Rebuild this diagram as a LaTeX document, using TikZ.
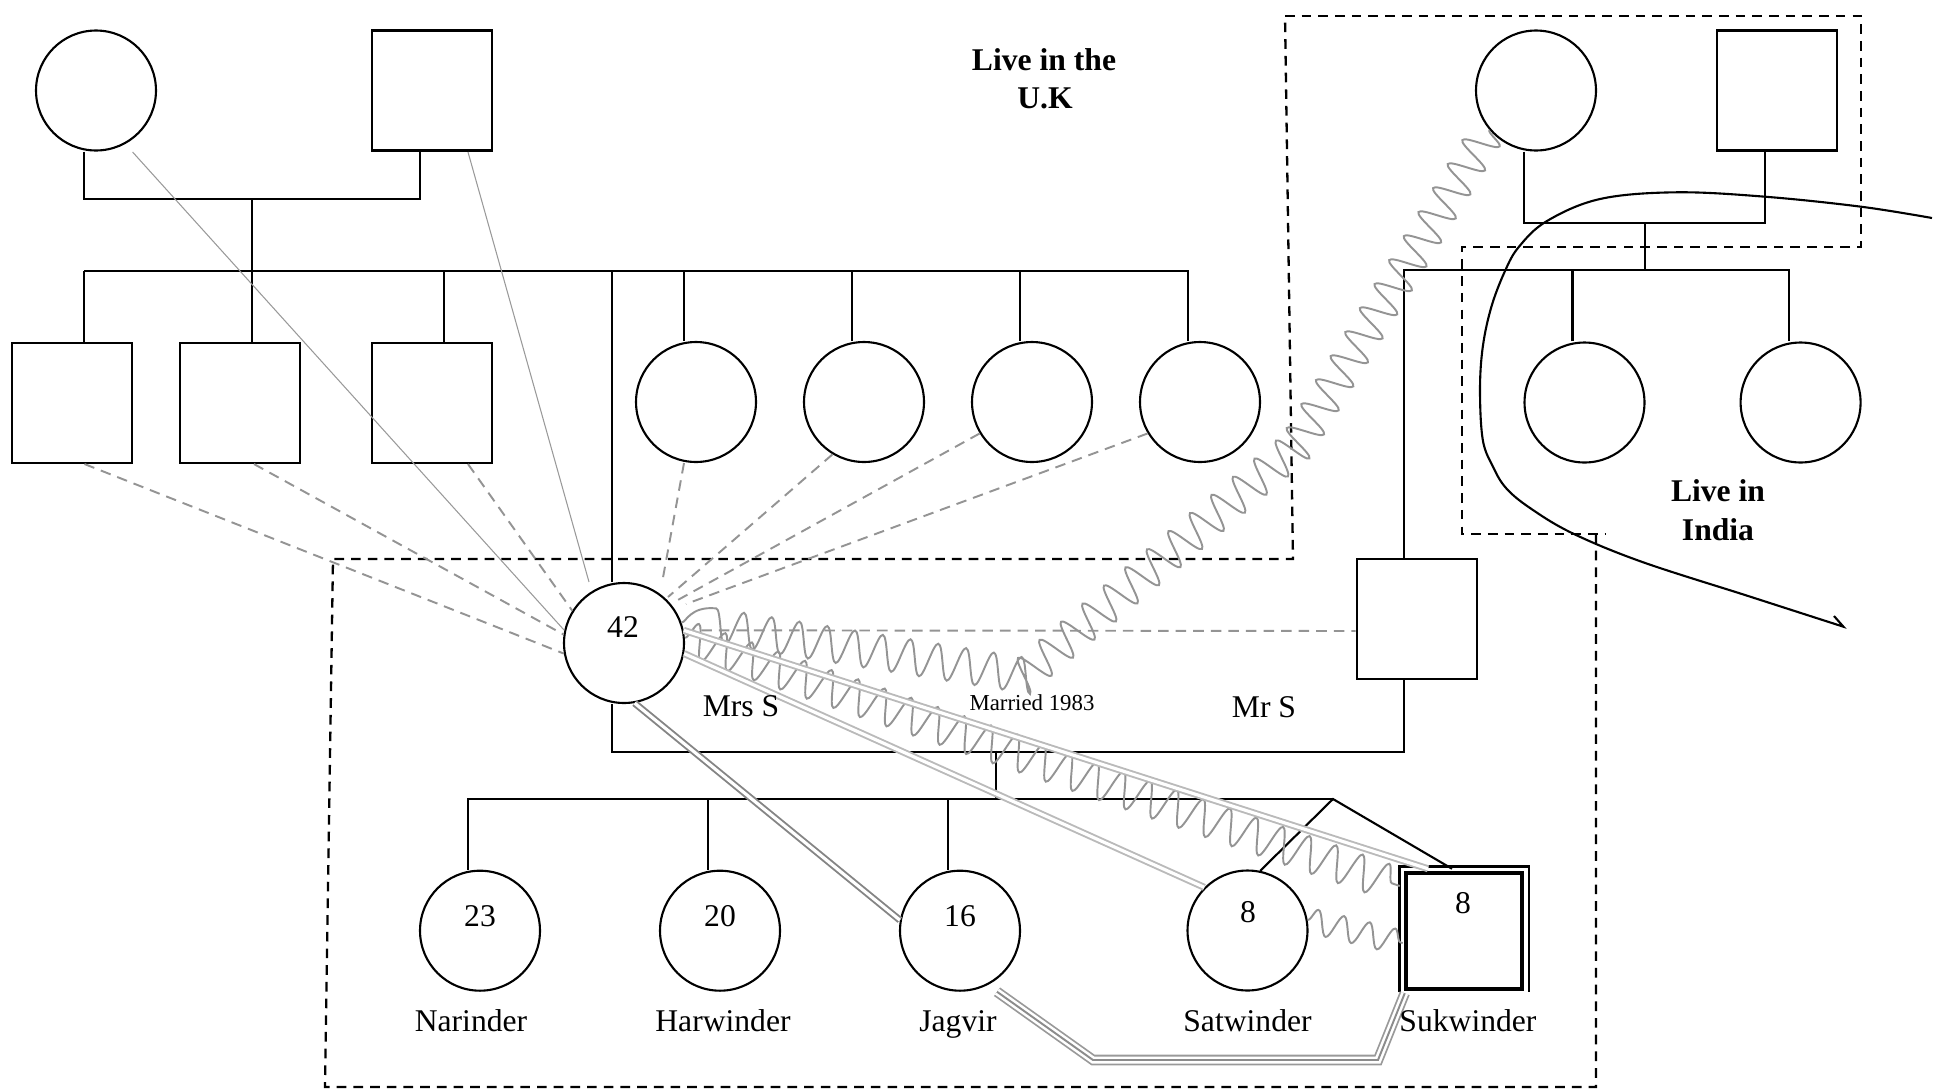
\documentclass[tikz,border=0pt]{standalone}
\usepackage{fontspec}
\setmainfont{Liberation Serif}
\usetikzlibrary{calc,decorations.pathmorphing}
\begin{document}
\begin{tikzpicture}[x=0.02cm,y=-0.02cm,
  fem/.style={circle,draw,line width=1.2pt,minimum size=2.4cm,inner sep=0pt},
  mal/.style={rectangle,draw,line width=1.2pt,minimum width=2.4cm,minimum height=2.4cm,inner sep=0pt},
  kin/.style={line width=1.2pt},
  zone/.style={line width=1.3pt,dash pattern=on 5.5pt off 4pt},
  gdash/.style={draw=black!42,line width=1.1pt,dash pattern=on 6pt off 4pt},
  gthin/.style={draw=black!40,line width=0.6pt},
  coil/.style={draw=black!42,line width=1.1pt,decorate,decoration={snake,segment length=16pt,amplitude=10pt}},
  dbl/.style={draw=black!27,line width=1.1pt,double=white,double distance=1.8pt},
  dbldark/.style={draw=black!48,line width=1.1pt,double=white,double distance=1.8pt},
  trip/.style={draw=black!40,line width=1pt,double=white,double distance=4pt},
  tripmid/.style={draw=black!45,line width=1.1pt},
  txt/.style={font=\fontsize{18}{21.6}\selectfont,inner sep=0pt},
  small/.style={font=\fontsize{13}{15}\selectfont,inner sep=0pt},
  zonelbl/.style={font=\fontsize{18}{21.6}\selectfont\bfseries,inner sep=0pt}]
\useasboundingbox (0,0) rectangle (1941,1089);

% ---------- people ----------
\node[fem] (A) at (96,90.5) {};
\node[mal] (B) at (432,90.5) {};
\node[fem] (G2) at (1536,90.5) {};
\node[mal] (F2) at (1777,90.5) {};

\node[mal] (S1) at (72,403) {};
\node[mal] (S2) at (240,403) {};
\node[mal] (S3) at (432,403) {};
\node[fem] (C1) at (696,402) {};
\node[fem] (C2) at (864,402) {};
\node[fem] (C3) at (1032,402) {};
\node[fem] (C4) at (1200,402) {};
\node[fem] (I1) at (1584.5,402.5) {};
\node[fem] (I2) at (1800.6,402.5) {};

\node[fem] (M) at (624,643) {};
\node[mal] (MS) at (1416.6,619) {};

\node[fem] (N) at (480,930.7) {};
\node[fem] (H) at (720,930.7) {};
\node[fem] (J) at (960,930.7) {};
\node[fem] (Sa) at (1247.5,930.5) {};
\node[rectangle,draw,line width=2.3pt,minimum size=2.33cm,inner sep=0pt] (Su) at (1464,931) {};
\draw[line width=1.5pt] ($(Su.south west)+(-4.3,1)$) -- ($(Su.north west)+(-4.3,-4.3)$)
   -- ($(Su.north east)+(4.7,-4.3)$) -- ($(Su.south east)+(4.7,1)$);

% ---------- zones ----------
\draw[zone] (1285,16) -- (1861,16) -- (1861,247) -- (1462,247) -- (1462,534) -- (1606,534);
\draw[zone] (1596,534) -- (1596,1087) -- (325,1087) -- (333,559) -- (1293,559) -- (1285,16);

% ---------- kinship lines ----------
\coordinate (sibL) at (84,271);
\coordinate (sibR) at (1188.6,271);
\coordinate (drop1) at (252,198.3);
\draw[kin] ($(A.south)+(-12,0)$) |- ($(B.south)+(-12,47.8)$) -- ($(B.south)+(-12,0)$);
\draw[kin] (drop1) -- (drop1 |- sibL);
\draw[kin] (sibL) -- (sibR);
\foreach \n/\o in {S1/12,S2/12,S3/12,C1/-12,C2/-12,C3/-12,C4/-12,M/-12}
  \draw[kin] ($(\n.north)+(\o,0)$) |- (sibL);

\draw[kin] ($(M.south)+(-12,0)$) |- ($(MS.south)+(-12.6,71.7)$) -- ($(MS.south)+(-12.6,0)$);
\coordinate (mar) at (996,750.7);
\coordinate (kidsL) at (468.3,799);
\coordinate (apex) at (1333,799);
\draw[kin] (mar) -- (mar |- kidsL);
\draw[kin] (kidsL) -- (apex);
\foreach \n in {N,H,J}
  \draw[kin] ($(\n.north)+(-12,0)$) |- (kidsL);
\draw[kin] (Sa.78) -- (apex) -- ($(Su.north)+(-12,-2)$);

\draw[kin] ($(MS.north)+(-12.6,0)$) |- ($(I2.north)+(-12,-71.5)$) -- ($(I2.north)+(-12,0)$);
\draw[kin] ($(I1.north)+(-12,0)$) -- ++(0,-71.5);
\coordinate (dropI) at (1645,222.3);
\draw[kin] (dropI) -- (1645,271);
\draw[kin] ($(G2.south)+(-12,0)$) |- ($(F2.south)+(-12,71.8)$) -- ($(F2.south)+(-12,0)$);

% ---------- India boundary ----------
\draw[line width=1.2pt] plot[smooth,tension=0.6] coordinates {(1932,218) (1861,206.7) (1765,196.7) (1676,192.3) (1600,199) (1547,221) (1519,246.7) (1505,271) (1491.4,306.7) (1482.8,346.7) (1480,390) (1482.8,440) (1493,466.7) (1506,488) (1530,508) (1572.5,533.3) (1641.5,561.7) (1745,595) (1796.8,611.7) (1843.4,626.7)} -- (1834,616);

% ---------- relationship lines ----------
\draw[gthin] ($(A.south)+(36.6,0.5)$) -- (M.168);
\draw[gthin] ($(B.south)+(36,0.5)$) -- ($(M.north)+(-35,0)$);
\draw[gdash] ($(S1.south)+(12.5,0)$) -- (M.190);
\draw[gdash] ($(S2.south)+(14,0)$) -- (M.172);
\draw[gdash] ($(S3.south)+(36,0)$) -- (M.148);
\draw[gdash] ($(C1.south)+(-12,0)$) -- ($(M.center)+(38,-60)$);
\draw[gdash] (C2.239) -- ($(M.center)+(44,-46)$);
\draw[gdash] (C3.211) -- ($(M.center)+(52,-42)$);
\draw[gdash] (C4.211) -- ($(M.center)+(62,-39)$);
\draw[gdash] (M.12) -- ($(MS.west)+(0,12)$);

\coordinate (k1) at (1300,440);
\coordinate (k2) at (1020,676);
\draw[coil] (G2.220) -- (k1) -- (k2) -- (M.20);
\draw[coil] (M.5) -- ($(Su.west)+(-4,-45)$);
\draw[coil,decoration={snake,segment length=15pt,amplitude=7pt}] (Sa.10) -- ($(Su.west)+(-1,12)$);

\draw[dbl] (M.12) -- ($(Su.north)+(-36,-2)$);
\draw[dbl] (M.-10) -- (Sa.135);
\draw[dbldark] (M.-80) -- (J.170);
\coordinate (t1) at (1093,1060);
\coordinate (t2) at (1378,1060);
\draw[trip] ($(J.south)+(37,0)$) -- (t1) -- (t2) -- ($(Su.south west)+(1,2)$);
\draw[tripmid] ($(J.south)+(37,0)$) -- (t1) -- (t2) -- ($(Su.south west)+(1,2)$);

% ---------- texts ----------
\node[txt] at (623,627.5) {42};
\node[txt] at (480,916) {23};
\node[txt] at (720,916) {20};
\node[txt] at (960,916) {16};
\node[txt] at (1248,912) {8};
\node[txt] at (1463,903) {8};
\node[txt,anchor=base] at (741,716.7) {Mrs S};
\node[small,anchor=base] at (1032,710) {Married 1983};
\node[txt,anchor=base] at (1264,717) {Mr S};
\node[txt,anchor=base] at (471,1031.7) {Narinder};
\node[txt,anchor=base] at (723,1031.7) {Harwinder};
\node[txt,anchor=base] at (958,1031.7) {Jagvir};
\node[txt,anchor=base] at (1247.5,1031.7) {Satwinder};
\node[txt,anchor=base] at (1468,1031.7) {Sukwinder};
\node[zonelbl,anchor=base] at (1044,70) {Live in the};
\node[zonelbl,anchor=base] at (1045,108.3) {U.K};
\node[zonelbl,anchor=base] at (1718,501.7) {Live in};
\node[zonelbl,anchor=base] at (1718,540) {India};
\end{tikzpicture}
\end{document}
